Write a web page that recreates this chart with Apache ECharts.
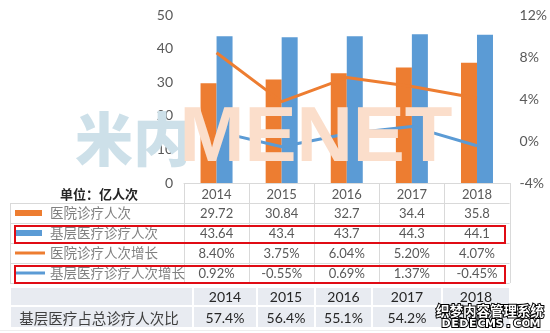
<!DOCTYPE html>
<html>
<head>
<meta charset="utf-8">
<script src="https://cdn.jsdelivr.net/npm/echarts@6/dist/echarts.min.js"></script>
<style>
  html, body { margin: 0; padding: 0; background: #fff; }
  #chart { width: 550px; height: 333px; }
</style>
</head>
<body>
<div id="chart"></div>
<script>
// 诊疗人次（亿人次）与增长率（%）
const years = ['2014', '2015', '2016', '2017', '2018'];
const hospitalVisits = [29.72, 30.84, 32.7, 34.4, 35.8];
const primaryVisits = [43.64, 43.4, 43.7, 44.3, 44.1];
const hospitalGrowth = [8.40, 3.75, 6.04, 5.20, 4.07];
const primaryGrowth = [0.92, -0.55, 0.69, 1.37, -0.45];
// 基层医疗占总诊疗人次比（%）
const primaryShare = [57.4, 56.4, 55.1, 54.2, 53.0];

const seriesNames = ['医院诊疗人次', '基层医疗诊疗人次', '医院诊疗人次增长', '基层医疗诊疗人次增长'];
const ORANGE = '#ed7d31';
const BLUE = '#5b9bd5';
const LATIN = "Lato, 'Noto Sans', sans-serif";
const CJK = "'Noto Sans CJK SC', sans-serif";

const chart = echarts.init(document.getElementById('chart'), null, { renderer: 'canvas' });

chart.setOption({
  animation: false,
  backgroundColor: '#ffffff',
  grid: { left: 184, right: 40, top: 15, bottom: 150 },
  xAxis: {
    type: 'category',
    data: years,
    axisLine: { show: true, lineStyle: { color: '#d9d9d9', width: 1 } },
    axisTick: { show: false },
    axisLabel: { margin: 5, fontSize: 13, color: '#595959', fontFamily: LATIN },
    splitLine: { show: false }
  },
  yAxis: [
    {
      type: 'value', min: 0, max: 50, interval: 10,
      axisLine: { show: false }, axisTick: { show: false }, splitLine: { show: false },
      axisLabel: { margin: 11, fontSize: 14, color: '#595959', fontFamily: LATIN }
    },
    {
      type: 'value', min: -4, max: 12, interval: 4, position: 'right',
      axisLine: { show: false }, axisTick: { show: false }, splitLine: { show: false },
      axisLabel: { margin: 10, fontSize: 14, color: '#595959', fontFamily: LATIN, formatter: '{value}%' }
    }
  ],
  series: [
    { name: seriesNames[0], type: 'bar', data: hospitalVisits, barWidth: 16, barGap: '0%', itemStyle: { color: ORANGE } },
    { name: seriesNames[1], type: 'bar', data: primaryVisits, barWidth: 16, barGap: '0%', itemStyle: { color: BLUE } },
    { name: seriesNames[2], type: 'line', yAxisIndex: 1, data: hospitalGrowth, symbol: 'none', z: 5,
      lineStyle: { color: ORANGE, width: 3 }, itemStyle: { color: ORANGE } },
    { name: seriesNames[3], type: 'line', yAxisIndex: 1, data: primaryGrowth, symbol: 'none', z: 5,
      lineStyle: { color: BLUE, width: 3 }, itemStyle: { color: BLUE } }
  ]
});

// 数据表：列位置取自类目轴
const cx = years.map((_, i) => chart.convertToPixel({ xAxisIndex: 0 }, i));
const half = (cx[1] - cx[0]) / 2;
const tableLeft = cx[0] - half;
const tableRight = cx[cx.length - 1] + half;
const tableTop = chart.convertToPixel({ yAxisIndex: 0 }, 0);
const rowH = 20;
const legendLeft = 10;
const GRID = '#d9d9d9';

const g = [];
function line(x1, y1, x2, y2, color, w) {
  g.push({ type: 'line', silent: true, z: 1,
    shape: { x1, y1, x2, y2 }, style: { stroke: color || GRID, lineWidth: w || 1 } });
}
function text(x, y, str, opt) {
  g.push({ type: 'text', silent: true, z: (opt && opt.z) || 2, x, y,
    style: Object.assign({ text: str, align: 'center', verticalAlign: 'middle',
      fill: '#595959', fontSize: 13, fontFamily: LATIN }, opt && opt.style) });
}

// 表格线
for (let r = 1; r <= 5; r++) {
  const y = Math.round(tableTop + r * rowH) + 0.5;
  line(legendLeft, y, tableRight, y);
}
line(legendLeft + 0.5, tableTop + rowH, legendLeft + 0.5, tableTop + 5 * rowH);
for (let i = 0; i <= years.length; i++) {
  const x = Math.round(tableLeft + i * 2 * half) + 0.5;
  line(x, tableTop, x, tableTop + 5 * rowH);
}

// 图例列（表格左侧的系列键）
const seriesColors = [ORANGE, BLUE, ORANGE, BLUE];
seriesNames.forEach((name, r) => {
  const yc = tableTop + (r + 1) * rowH + rowH / 2;
  if (r < 2) {
    g.push({ type: 'rect', silent: true, z: 2,
      shape: { x: 15, y: yc - 3, width: 27, height: 6 }, style: { fill: seriesColors[r] } });
  } else {
    line(15, yc, 45, yc, seriesColors[r], 3);
  }
  text(50, yc, name, { style: { align: 'left', fontFamily: CJK, fontSize: 13.5, fill: '#808080' } });
});

// 表格数值
const rows = [
  hospitalVisits.map(v => String(v)),
  primaryVisits.map(v => String(v)),
  hospitalGrowth.map(v => v.toFixed(2) + '%'),
  primaryGrowth.map(v => v.toFixed(2) + '%')
];
rows.forEach((vals, r) => {
  vals.forEach((s, i) => text(cx[i], tableTop + (r + 1) * rowH + rowH / 2 + 1, s));
});

text(99, tableTop + rowH / 2 + 1, '单位：亿人次',
  { style: { fontFamily: CJK, fontSize: 13, fontWeight: 'bold', fill: '#262626' } });

// 红框标注
[1, 3].forEach(r => {
  g.push({ type: 'rect', silent: true, z: 3,
    shape: { x: 15, y: tableTop + (r + 1) * rowH + 3, width: 490, height: 17 },
    style: { fill: 'none', stroke: '#e00b14', lineWidth: 2 } });
});

// 占比表
const shareCols = [10, 193, 257, 315, 372, 442, 510];
const shareRows = [287, 306, 328];
for (let r = 0; r < 2; r++) {
  for (let c = 0; c < shareCols.length - 1; c++) {
    g.push({ type: 'rect', silent: true, z: 1,
      shape: { x: shareCols[c] + 1, y: shareRows[r] + 1,
        width: shareCols[c + 1] - shareCols[c] - 2, height: shareRows[r + 1] - shareRows[r] - 2 },
      style: { fill: '#e8ebf1' } });
  }
}
line(0, 330.5, 550, 330.5, '#eeeeee');
text(99, (shareRows[1] + shareRows[2]) / 2 + 1, '基层医疗占总诊疗人次比',
  { style: { fontFamily: CJK, fontSize: 14.5, fill: '#404040' } });
years.forEach((y, i) => {
  const x = (shareCols[i + 1] + shareCols[i + 2]) / 2;
  text(x, (shareRows[0] + shareRows[1]) / 2 + 1, y, { style: { fontSize: 14, fill: '#262626' } });
  text(x, (shareRows[1] + shareRows[2]) / 2 + 1, primaryShare[i].toFixed(1) + '%',
    { style: { fontSize: 14, fill: '#262626' } });
});

// 水印
text(133, 139, '米内', { z: 50, style: { fontFamily: CJK, fontSize: 58, fontWeight: 900,
  fill: '#cde0e9', blend: 'multiply' } });
text(316, 139, 'MENET', { z: 50, style: { fontFamily: "'Liberation Sans', Arial, sans-serif",
  fontSize: 78, fontWeight: 'bold', fill: '#fbdecb', blend: 'multiply' } });

text(490, 311, '织梦内容管理系统', { z: 60, style: { fontFamily: CJK, fontSize: 13.5, fontWeight: 'bold',
  fill: '#ffffff', stroke: '#000000', lineWidth: 2 } });
'DEDECMS.COM'.split('').forEach((ch, i) => {
  text(446 + i * 8.9, 324, ch, { z: 60, style: { fontFamily: "'DejaVu Sans', sans-serif", fontSize: 11,
    fontWeight: 'bold', fill: '#ffffff', stroke: '#000000', lineWidth: 2 } });
});

chart.setOption({ graphic: g });
</script>
</body>
</html>
